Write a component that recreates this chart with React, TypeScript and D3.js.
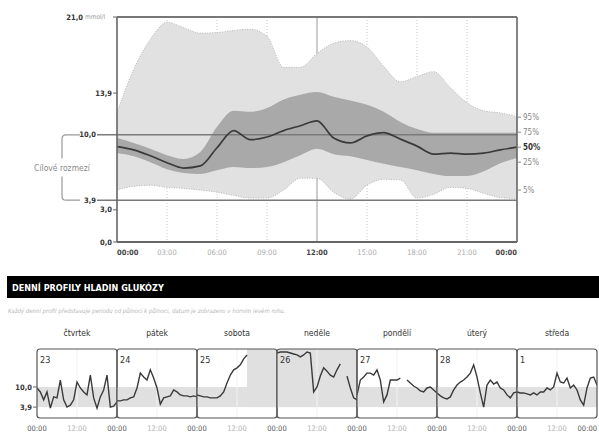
import * as d3 from "d3";

// ---- main ambulatory profile (hourly percentiles, mmol/l)
const hours = [0, 1, 2, 3, 4, 5, 6, 7, 8, 9, 10, 11, 12, 13, 14, 15, 16, 17, 18, 19, 20, 21, 22, 23, 24];
const p95 = [12.05, 16.1, 18.9, 20.5, 20.0, 19.5, 19.55, 19.75, 19.85, 19.2, 16.3, 16.3, 17.6, 18.55, 18.8, 18.2, 16.4, 14.95, 15.45, 15.9, 14.4, 13.0, 12.25, 12.05, 11.7];
const p75 = [9.7, 9.25, 8.7, 8.1, 7.75, 8.4, 10.75, 12.25, 12.15, 12.5, 13.3, 13.75, 14.0, 13.55, 13.2, 12.8, 12.15, 11.2, 10.55, 10.2, 10.2, 10.2, 10.2, 10.2, 10.2];
const p50 = [8.9, 8.6, 8.05, 7.4, 6.9, 7.1, 8.8, 10.4, 9.55, 9.8, 10.4, 10.85, 11.3, 9.7, 9.25, 9.9, 10.2, 9.6, 8.95, 8.2, 8.3, 8.2, 8.3, 8.6, 8.85];
const p25 = [8.3, 8.0, 7.45, 6.8, 6.45, 6.35, 6.7, 7.0, 6.9, 7.0, 7.45, 8.1, 8.7, 8.2, 8.0, 7.65, 7.3, 7.0, 6.7, 6.35, 6.15, 6.15, 6.6, 7.35, 7.85];
const p5 = [4.85, 5.2, 5.3, 5.1, 5.0, 4.85, 4.65, 4.35, 4.1, 4.1, 4.85, 5.95, 5.95, 4.65, 4.0, 5.3, 5.85, 5.8, 4.1, 4.45, 5.1, 5.0, 4.55, 4.15, 4.05];

const yTicks = [21.0, 13.9, 3.0, 0.0];
const targetLow = 3.9;
const targetHigh = 10.0;
const xTicks = [0, 3, 6, 9, 12, 15, 18, 21, 24];
const xTickLabels = ["00:00", "03:00", "06:00", "09:00", "12:00", "15:00", "18:00", "21:00", "00:00"];
const pctLabels = ["95%", "75%", "50%", "25%", "5%"];
const pctLabelValues = [11.65, 10.25, 8.85, 7.45, 4.85];

// ---- daily profiles
const dayNames = ["čtvrtek", "pátek", "sobota", "neděle", "pondělí", "úterý", "středa"];
const dayDates = ["23", "24", "25", "26", "27", "28", "1"];
const N = null;
const day23 = [9.7, 8.5, 6.1, 8.5, 3.6, 7.0, 6.7, 12.1, 6.1, 3.9, 4.5, 6.1, 11.5, 9.7, 8.5, 7.6, 13.6, 6.7, 3.6, 7.0, 9.1, 13.6, 3.9, 4.2, 5.5];
const day24 = [5.8, 5.8, 6.1, 6.1, 6.7, 7.0, 9.7, 14.2, 13.0, 12.1, 15.2, 12.7, 9.7, 4.8, 6.7, 7.0, 7.3, 9.1, 8.5, 7.6, 7.3, 7.3, 7.0, 7.3, 7.0];
const day25 = [7.6, 7.3, 7.0, 7.0, 6.7, 6.7, 6.7, 7.3, 8.5, 11.2, 13.6, 15.2, 15.8, 16.7, 18.5, 19.7, N, N, N, N, N, N, N, N, N];
const day26 = [20.3, 20.6, 20.6, 20.6, 20.3, 20.0, 19.7, 19.1, 19.7, 20.6, 20.3, 8.5, 10.0, 13.3, 15.8, 14.8, 13.6, 13.0, 15.2, 17.0, N, 13.3, 9.7, 6.7, 6.1];
const day27 = [7.6, 12.1, 13.0, 14.2, 14.2, 13.6, 15.2, 12.1, 5.5, 7.6, 12.1, 12.1, 12.1, 12.7, N, 12.1, 11.2, 10.3, 9.7, 8.8, 8.5, 9.7, 10.0, 9.1, 8.2];
const day28 = [8.2, 7.3, 6.7, 6.4, 7.0, 9.1, 10.6, 11.5, 12.1, 13.0, 14.2, 16.7, 13.0, 8.2, 3.9, 10.6, 12.1, 10.9, 11.5, 9.7, 9.1, 7.6, 6.7, 8.2, 8.5];
const day01 = [8.5, 8.2, 8.2, 7.9, 7.6, 8.2, 7.6, 8.5, 8.5, 9.7, 9.1, 10.0, 14.2, 11.5, 11.2, 12.7, 9.7, 10.6, 9.1, 6.1, 4.5, 9.7, 12.7, 13.0, 10.6];
const dayValues = [day23, day24, day25, day26, day27, day28, day01];
// periods shaded above target (day index, from hour, to hour)
const highShadeDay = [2, 3];
const highShadeFrom = [15, 0];
const highShadeTo = [24, 24];
const panelTicks = [10.0, 3.9];

const FONT = "'Liberation Sans Narrow', 'DejaVu Sans Condensed', 'Liberation Sans', sans-serif";
const fmt = (v: number) => v.toFixed(1).replace(".", ",");

const App = () => {
  // main chart scales
  const x = d3.scaleLinear().domain([0, 24]).range([117, 517]);
  const y = d3.scaleLinear().domain([0, 21]).range([242, 17]);

  const band = (lo: number[], hi: number[]) =>
    d3.area<number>()
      .x((h) => x(h))
      .y0((_, i) => y(lo[i]))
      .y1((_, i) => y(hi[i]))
      .curve(d3.curveMonotoneX)(hours) || "";
  const line = (vals: number[]) =>
    d3.line<number>()
      .x((h) => x(h))
      .y((_, i) => y(vals[i]))
      .curve(d3.curveMonotoneX)(hours) || "";

  // daily panels
  const dayX = d3.scaleLinear().domain([0, 7]).range([37, 597]);
  const pw = dayX(1) - dayX(0);
  const hx = d3.scaleLinear().domain([0, 24]).range([0, pw]);
  const py = d3.scaleLinear().domain([0, 21.2]).range([420, 350]);
  const pTop = 349, pBot = 418;

  const dayLine = (i: number) =>
    d3.line<number | null>()
      .defined((d) => d != null)
      .x((_, k) => dayX(i) + hx(hours[k]))
      .y((d) => py(d as number))(dayValues[i]) || "";

  const bY = y(targetHigh), lY = y(targetLow);
  const brX = 62;

  return (
    <svg width={599} height={434} style={{ position: "absolute", left: 0, top: 0, fontFamily: FONT }}>
      <defs>
        {dayNames.map((_, i) => (
          <clipPath id={`pc${i}`} key={i}>
            <rect x={dayX(i)} y={pTop} width={pw} height={pBot - pTop} />
          </clipPath>
        ))}
      </defs>

      {/* vertical gridlines */}
      {xTicks.slice(1, -1).map((t) => (
        <line key={t} x1={x(t)} x2={x(t)} y1={y(21)} y2={y(0)}
          stroke={t === 12 ? "#9a9a9a" : "#c8c8c8"} strokeWidth={1}
          strokeDasharray={t === 12 ? undefined : "1,2"} />
      ))}

      {/* percentile bands */}
      <path d={band(p5, p95)} fill="#e1e1e1" />
      <path d={line(p95)} fill="none" stroke="#b5b5b5" strokeWidth={1} strokeDasharray="1,1.5" />
      <path d={line(p5)} fill="none" stroke="#b5b5b5" strokeWidth={1} strokeDasharray="1,1.5" />
      <path d={band(p25, p75)} fill="#a9a9a9" />

      {/* target range lines */}
      <line x1={97} x2={x(24)} y1={bY} y2={bY} stroke="#7a7a7a" strokeWidth={1.5} />
      <line x1={97} x2={x(24)} y1={lY} y2={lY} stroke="#7a7a7a" strokeWidth={1.5} />

      <path d={line(p50)} fill="none" stroke="#3a3a3a" strokeWidth={1.7} />

      {/* frame */}
      <line x1={x(0)} x2={x(24)} y1={y(21)} y2={y(21)} stroke="#777" strokeWidth={2} />
      <line x1={x(0)} x2={x(24)} y1={y(0)} y2={y(0)} stroke="#666" strokeWidth={2} />
      <line x1={x(0)} x2={x(0)} y1={y(21)} y2={y(0)} stroke="#666" strokeWidth={1.6} />
      <line x1={x(24)} x2={x(24)} y1={y(21)} y2={y(0)} stroke="#666" strokeWidth={1.6} />

      {/* y ticks */}
      {yTicks.map((t) => (
        <g key={t}>
          <line x1={x(0) - 4} x2={x(0)} y1={y(t)} y2={y(t)} stroke="#666" />
          <text x={t === 21 ? 83 : x(0) - 5} y={y(t)} dy="0.35em" textAnchor="end"
            fontSize={7.5} fontWeight="bold" fill="#333">{fmt(t)}</text>
        </g>
      ))}
      <text x={85} y={y(21)} dy="0.35em" fontSize={6.5} fill="#999">mmol/l</text>
      <text x={96} y={bY} dy="0.35em" textAnchor="end" fontSize={7.5} fontWeight="bold" fill="#333">{fmt(targetHigh)}</text>
      <text x={96} y={lY} dy="0.35em" textAnchor="end" fontSize={7.5} fontWeight="bold" fill="#333">{fmt(targetLow)}</text>

      {/* target bracket */}
      <path d={`M80,${bY} H${brX + 4} Q${brX},${bY} ${brX},${bY + 4} V${(bY + lY) / 2 - 9}`}
        fill="none" stroke="#999" strokeWidth={1.2} />
      <path d={`M80,${lY} H${brX + 4} Q${brX},${lY} ${brX},${lY - 4} V${(bY + lY) / 2 + 9}`}
        fill="none" stroke="#999" strokeWidth={1.2} />
      <text x={brX} y={(bY + lY) / 2} dy="0.35em" textAnchor="middle" fontSize={8.5} fill="#8a8a8a">Cílové rozmezí</text>

      {/* x ticks */}
      {xTicks.map((t, i) => {
        const bold = t % 12 === 0;
        return (
          <text key={i} x={x(t)} y={255} textAnchor={i === 0 ? "start" : i === xTicks.length - 1 ? "end" : "middle"}
            fontSize={7.5} fontWeight={bold ? "bold" : "normal"} fill={bold ? "#444" : "#aaa"}>
            {xTickLabels[i]}
          </text>
        );
      })}

      {/* percentile labels */}
      {pctLabels.map((l, i) => (
        <g key={l}>
          <line x1={x(24)} x2={x(24) + 4} y1={y(pctLabelValues[i])} y2={y(pctLabelValues[i])} stroke="#888" />
          <text x={x(24) + 6} y={y(pctLabelValues[i])} dy="0.35em" fontSize={8}
            fontWeight={l === "50%" ? "bold" : "normal"} fill={l === "50%" ? "#333" : "#888"}>{l}</text>
        </g>
      ))}

      {/* section header */}
      <rect x={7} y={276} width={592} height={22} fill="#000" />
      <text x={12} y={290.5} fontSize={9} fontWeight="bold" fill="#fff">DENNÍ PROFILY HLADIN GLUKÓZY</text>
      <text x={8} y={313} fontSize={6} fontStyle="italic" fill="#b5b5b5">
        Každý denní profil představuje periodu od půlnoci k půlnoci, datum je zobrazeno v horním levém rohu.
      </text>

      {/* daily panels */}
      {dayNames.map((name, i) => {
        const x0 = dayX(i);
        const shadeIdx = highShadeDay.indexOf(i);
        return (
          <g key={name}>
            <text x={x0 + pw / 2} y={336} textAnchor="middle" fontSize={8.5} fill="#333">{name}</text>
            <rect x={x0} y={py(targetHigh)} width={pw} height={py(targetLow) - py(targetHigh)} fill="#e0e0e0" />
            {shadeIdx >= 0 && (
              <rect x={x0 + hx(highShadeFrom[shadeIdx])} y={pTop}
                width={hx(highShadeTo[shadeIdx]) - hx(highShadeFrom[shadeIdx])}
                height={py(targetLow) - pTop} fill="#e0e0e0" />
            )}
            <line x1={x0 + hx(12)} x2={x0 + hx(12)} y1={pTop} y2={pBot} stroke="#f2f2f2" strokeWidth={1} />
            <path d={dayLine(i)} fill="none" stroke="#3a3a3a" strokeWidth={1.4} clipPath={`url(#pc${i})`} />
            <rect x={x0} y={pTop} width={pw} height={pBot - pTop} rx={3} fill="none" stroke="#555" strokeWidth={1.2} />
            <text x={x0 + 3} y={363} fontSize={9} fill="#333">{dayDates[i]}</text>
            <text x={x0} y={431} textAnchor="middle" fontSize={7.5} fill="#555">00:00</text>
            <text x={x0 + hx(12)} y={431} textAnchor="middle" fontSize={7.5} fill="#b0b0b0">12:00</text>
          </g>
        );
      })}
      <text x={dayX(7)} y={431} textAnchor="end" fontSize={7.5} fill="#555">00:00</text>

      {/* daily y ticks */}
      {panelTicks.map((t) => (
        <g key={t}>
          <line x1={dayX(0) - 4} x2={dayX(0)} y1={py(t)} y2={py(t)} stroke="#666" />
          <text x={dayX(0) - 5} y={py(t)} dy="0.35em" textAnchor="end" fontSize={7.5} fontWeight="bold" fill="#333">{fmt(t)}</text>
        </g>
      ))}
    </svg>
  );
};

export default App;
